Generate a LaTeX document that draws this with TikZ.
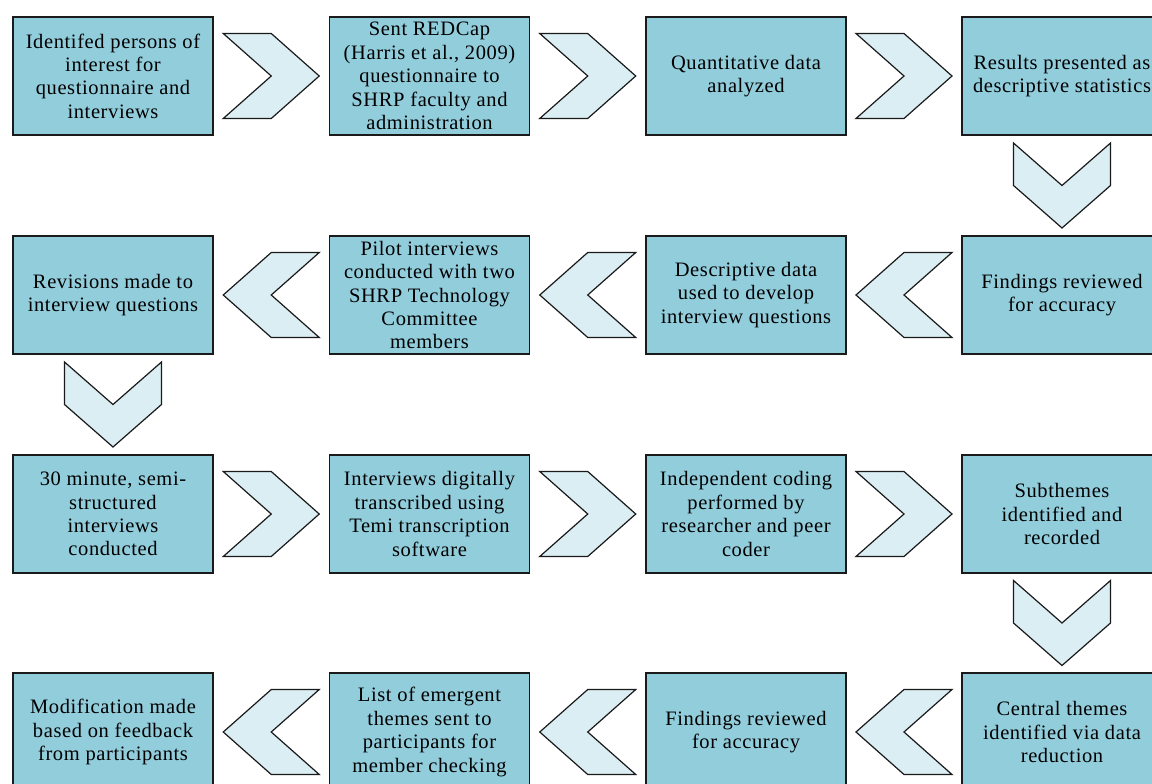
\documentclass[tikz,border=0pt]{standalone}
\usepackage{fontspec}
\setmainfont{Liberation Serif}
\newfontfamily\boxfont[LetterSpace=3]{Liberation Serif}
\usetikzlibrary{calc}
\definecolor{boxfill}{HTML}{92CDDC}
\definecolor{chevfill}{HTML}{DAEEF3}
\definecolor{edge}{HTML}{1A1A1A}
\tikzset{
  stepbox/.style={draw=edge, line width=1.2pt, fill=boxfill, rectangle,
    minimum width=200pt, minimum height=118pt, inner sep=0pt, align=center,
    font=\boxfont\fontsize{20.5}{23.4}\selectfont},
  chevstyle/.style={draw=edge, line width=1.2pt, fill=chevfill, line join=miter},
  chevR/.pic={\path[chevstyle] (-48,-42.5) -- (0,-42.5) -- (48,0) -- (0,42.5) -- (-48,42.5) -- (0,0) -- cycle;},
  chevL/.pic={\path[chevstyle] (48,-42.5) -- (0,-42.5) -- (-48,0) -- (0,42.5) -- (48,42.5) -- (0,0) -- cycle;},
  chevD/.pic={\path[chevstyle] (-48.5,-42.5) -- (0,0) -- (48.5,-42.5) -- (48.5,0) -- (0,42.5) -- (-48.5,0) -- cycle;}
}
\begin{document}
\begin{tikzpicture}[x=1pt, y=-1pt]
\useasboundingbox (0,0) rectangle (1152,784);
\clip (0,0) rectangle (1152,784);
\fill[white] (0,0) rectangle (1152,784);
% row 1
\node[stepbox] (A1) at (113,76) {Identifed persons of\\interest for\\questionnaire and\\interviews};
\node[stepbox] (A2) at (429.5,76) {Sent REDCap\\(Harris et al., 2009)\\questionnaire to\\SHRP faculty and\\administration};
\node[stepbox] (A3) at (746,76) {Quantitative data\\analyzed};
\node[stepbox] (A4) at (1062,76) {Results presented as\\descriptive statistics};
% row 2
\node[stepbox] (B4) at (1062,295) {Findings reviewed\\for accuracy};
\node[stepbox] (B3) at (746,295) {Descriptive data\\used to develop\\interview questions};
\node[stepbox] (B2) at (429.5,295) {Pilot interviews\\conducted with two\\SHRP Technology\\Committee\\members};
\node[stepbox] (B1) at (113,295) {Revisions made to\\interview questions};
% row 3
\node[stepbox] (C1) at (113,514) {30 minute, semi-\\structured\\interviews\\conducted};
\node[stepbox] (C2) at (429.5,514) {Interviews digitally\\transcribed using\\Temi transcription\\software};
\node[stepbox] (C3) at (746,514) {Independent coding\\performed by\\researcher and peer\\coder};
\node[stepbox] (C4) at (1062,514) {Subthemes\\identified and\\recorded};
% row 4
\node[stepbox] (D4) at (1062,732) {Central themes\\identified via data\\reduction};
\node[stepbox] (D3) at (746,732) {Findings reviewed\\for accuracy};
\node[stepbox] (D2) at (429.5,732) {List of emergent\\themes sent to\\participants for\\member checking};
\node[stepbox] (D1) at (113,732) {Modification made\\based on feedback\\from participants};
% chevrons
\pic at ($(A1.east)!0.5!(A2.west)$) {chevR};
\pic at ($(A2.east)!0.5!(A3.west)$) {chevR};
\pic at ($(A3.east)!0.5!(A4.west)$) {chevR};
\pic at ($(A4.south)!0.5!(B4.north)$) {chevD};
\pic at ($(B4.west)!0.5!(B3.east)$) {chevL};
\pic at ($(B3.west)!0.5!(B2.east)$) {chevL};
\pic at ($(B2.west)!0.5!(B1.east)$) {chevL};
\pic at ($(B1.south)!0.5!(C1.north)$) {chevD};
\pic at ($(C1.east)!0.5!(C2.west)$) {chevR};
\pic at ($(C2.east)!0.5!(C3.west)$) {chevR};
\pic at ($(C3.east)!0.5!(C4.west)$) {chevR};
\pic at ($(C4.south)!0.5!(D4.north)$) {chevD};
\pic at ($(D4.west)!0.5!(D3.east)$) {chevL};
\pic at ($(D3.west)!0.5!(D2.east)$) {chevL};
\pic at ($(D2.west)!0.5!(D1.east)$) {chevL};
\end{tikzpicture}
\end{document}
